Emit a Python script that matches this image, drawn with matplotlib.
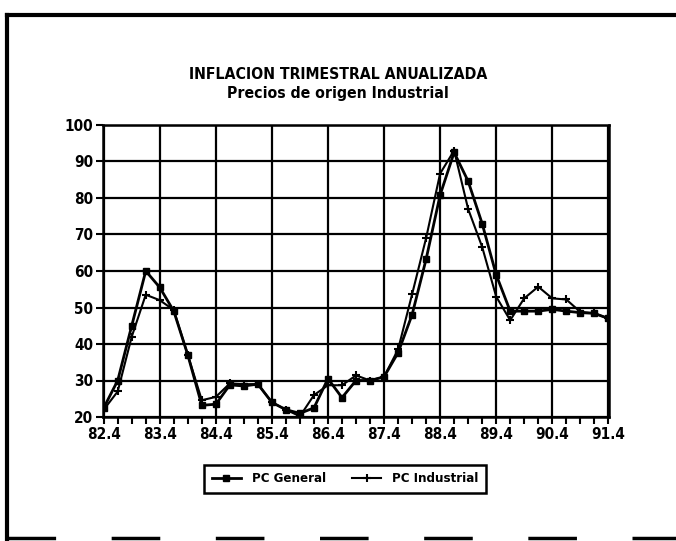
import matplotlib
matplotlib.use('Agg')
import matplotlib.pyplot as plt
from matplotlib.lines import Line2D

###       DATA        ###
quarters = ['82.4',
            '83.1', '83.2', '83.3', '83.4',
            '84.1', '84.2', '84.3', '84.4',
            '85.1', '85.2', '85.3', '85.4',
            '86.1', '86.2', '86.3', '86.4',
            '87.1', '87.2', '87.3', '87.4',
            '88.1', '88.2', '88.3', '88.4',
            '89.1', '89.2', '89.3', '89.4',
            '90.1', '90.2', '90.3', '90.4',
            '91.1', '91.2', '91.3', '91.4']

pc_general = [22.5, 30, 45, 60, 55.5, 49, 37, 23.2, 23.5, 28.8, 28.5, 29, 24,
              22, 21, 22.5, 30.5, 25.3, 30, 30, 31, 37.6, 48, 63.2, 80.8,
              92.5, 84.6, 73, 59, 49, 49, 49, 49.5, 49, 48.6, 48.4, 47]

pc_industrial = [22, 27, 42, 53.5, 52, 49.3, 37, 24.6, 25.5, 29.2, 29, 29, 24,
                 22, 20.2, 26, 28.7, 28.7, 31.4, 30, 31, 38.5, 53.6, 69, 86.7,
                 93, 77, 66.6, 53, 46.5, 52.5, 55.7, 52.5, 52.2, 48.8, 48.4, 47]

title = 'INFLACION TRIMESTRAL ANUALIZADA\nPrecios de origen Industrial'
yticks = [20, 30, 40, 50, 60, 70, 80, 90, 100]
###                   ###

plt.rcParams['font.family'] = ['DejaVu Sans']
plt.rcParams['font.stretch'] = 'condensed'

mydpi = 100
fig = plt.figure(figsize=(676/mydpi, 541/mydpi), dpi=mydpi)
ax = fig.add_axes([103/676, 124/541, 506/676, 292/541])

x = list(range(len(quarters)))

ax.plot(x, pc_general, color='black', lw=2, marker='s', markersize=5,
        label='PC General', zorder=3)
ax.plot(x, pc_industrial, color='black', lw=1.5, marker='+', markersize=6,
        markeredgewidth=1.5, label='PC Industrial', zorder=3)

ax.set_xlim(-0.05, len(quarters) - 1 + 0.05)
ax.set_ylim(20, 100)
ax.set_yticks(yticks)

major = [i for i, q in enumerate(quarters) if q.endswith('.4')]
ax.set_xticks(major)
ax.set_xticklabels([quarters[i] for i in major])
ax.set_xticks(x, minor=True)

ax.grid(True, which='major', color='black', lw=1.6)
for s in ax.spines.values():
    s.set_linewidth(1.8)

ax.tick_params(axis='both', which='major', direction='out', length=5, width=1.5,
               labelsize=11, pad=2)
ax.tick_params(axis='x', which='minor', direction='out', length=5, width=1.5)
for lab in ax.get_xticklabels() + ax.get_yticklabels():
    lab.set_fontweight('bold')

fig.text(0.5, 1 - 84/541, title, ha='center', va='center', fontsize=11.3,
         fontweight='bold', linespacing=1.3)

leg = ax.legend(loc='center', bbox_to_anchor=(345/676, 1 - 479/541),
                bbox_transform=fig.transFigure, ncol=2, frameon=True,
                fancybox=False, edgecolor='black', framealpha=1, fontsize=9.5,
                handlelength=2.2, columnspacing=2.0, borderpad=0.6)
leg.get_frame().set_linewidth(1.8)
for t in leg.get_texts():
    t.set_fontweight('bold')

# page frame from the scan
fig.add_artist(Line2D([7/676, 7/676], [0, 1 - 15/541], color='black', lw=3))
fig.add_artist(Line2D([7/676, 1], [1 - 15/541, 1 - 15/541], color='black', lw=3))
fig.add_artist(Line2D([7/676, 1], [3/541, 3/541], color='black', lw=2.5,
                      linestyle=(0, (14, 16))))

fig.savefig('out.png', dpi=mydpi, facecolor='white')
